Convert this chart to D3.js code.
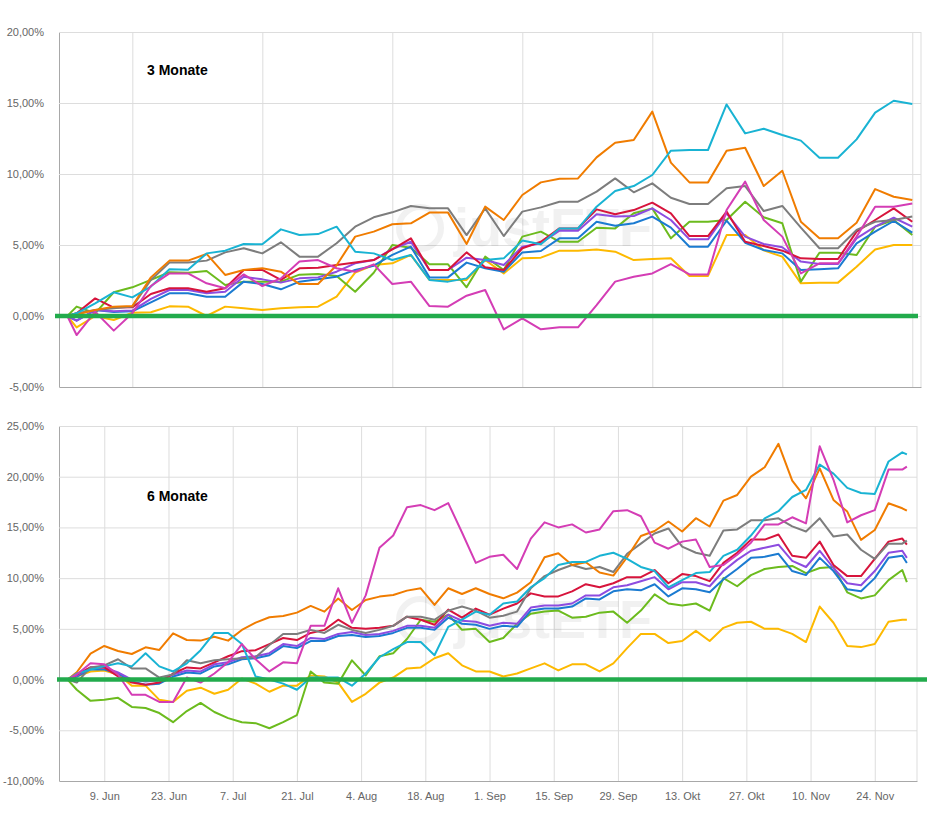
<!DOCTYPE html>
<html>
<head>
<meta charset="utf-8">
<script src="https://cdn.jsdelivr.net/npm/d3@7"></script>
<style>
  body { margin: 0; background: #fff; }
  svg { display: block; }
</style>
</head>
<body>
<script>
// sampled days, counted from 1 Sep (3 Monate) and 1 Jun (6 Monate)
var daysTop = [0, 1, 3, 5, 7, 9, 11, 13, 15, 17, 19, 21, 23, 25, 27, 29, 31, 33, 35, 37, 39, 41, 43, 45, 47,
  49, 51, 53, 55, 57, 59, 61, 63, 65, 67, 69, 71, 73, 75, 77, 79, 81, 83, 85, 87, 89, 91];
var daysBottom = [0, 2, 5, 8, 11, 14, 17, 20, 23, 26, 29, 32, 35, 38, 41, 44, 47, 50, 53, 56, 59,
  62, 65, 68, 71, 74, 77, 80, 83, 86, 89, 92, 95, 98, 101, 104, 107, 110, 113, 116, 119, 122,
  125, 128, 131, 134, 137, 140, 143, 146, 149, 152, 155, 158, 161, 164, 167, 170, 173, 176, 179, 182, 183];

// 3 Monate, performance in %
var topCyan = [0, 0.19, 0.89, 1.67, 1.31, 2.07, 3.29, 3.26, 4.41, 4.6, 5.07, 5.05, 6.1, 5.7, 5.77, 6.29, 4.53, 4.41, 3.94, 4.3, 2.54, 2.42, 2.65, 3.94, 4.06, 5.31, 5.05, 6.17, 6.17, 7.7, 8.8, 9.15, 9.93, 11.64, 11.69, 11.69, 14.9, 12.86, 13.19, 12.75, 12.35, 11.15, 11.15, 12.44, 14.32, 15.16, 14.93];
var topOrange = [0, 0.1, 0.42, 0.66, 0.7, 2.72, 3.9, 3.9, 4.37, 2.89, 3.24, 3.36, 3.12, 2.25, 2.25, 3.57, 5.59, 5.94, 6.46, 6.53, 7.28, 7.28, 5.07, 7.7, 6.76, 8.52, 9.41, 9.67, 9.69, 11.17, 12.2, 12.39, 14.39, 10.8, 9.41, 9.41, 11.64, 11.85, 9.15, 10.23, 6.64, 5.47, 5.47, 6.57, 8.94, 8.4, 8.17];
var topGray = [0, 0.19, 0.42, 0.54, 0.66, 2.54, 3.76, 3.76, 3.9, 4.48, 4.77, 4.41, 5.19, 4.18, 4.18, 5.12, 6.29, 6.95, 7.3, 7.75, 7.58, 7.58, 5.7, 7.58, 5.63, 7.35, 7.65, 8.05, 8.05, 8.76, 9.69, 8.71, 9.34, 8.33, 7.89, 7.89, 8.99, 9.15, 7.39, 7.75, 6.22, 4.77, 4.77, 6.06, 6.64, 6.76, 7.0];
var topRed = [0, 0.19, 1.24, 0.59, 0.61, 1.55, 1.95, 1.95, 1.71, 1.95, 3.24, 3.24, 2.54, 3.36, 3.4, 3.59, 3.76, 3.94, 4.69, 5.47, 3.24, 3.24, 4.48, 3.43, 3.24, 4.77, 5.23, 6.17, 6.17, 7.51, 7.16, 7.46, 7.98, 7.23, 5.63, 5.63, 7.35, 5.23, 4.93, 4.6, 4.06, 4.01, 4.01, 5.94, 6.76, 7.58, 6.64];
var topPurple = [0, -0.33, 0.42, 0.33, 0.38, 1.2, 1.83, 1.83, 1.6, 1.71, 2.77, 2.58, 2.35, 2.65, 2.72, 3.12, 3.71, 3.94, 4.72, 5.23, 3.24, 3.24, 4.11, 3.94, 3.59, 4.88, 5.12, 6.01, 6.01, 7.16, 7.0, 7.04, 7.58, 6.76, 5.4, 5.4, 7.23, 5.59, 5.07, 4.84, 3.83, 3.66, 3.66, 5.47, 6.29, 6.92, 6.29];
var topBlue = [0, -0.33, 0.42, 0.28, 0.33, 0.96, 1.6, 1.6, 1.36, 1.36, 2.42, 2.25, 1.88, 2.42, 2.58, 2.77, 3.24, 3.54, 4.3, 4.88, 2.72, 2.72, 3.76, 3.36, 3.12, 4.48, 4.58, 5.47, 5.47, 6.64, 6.36, 6.53, 7.0, 6.22, 4.88, 4.88, 6.71, 5.16, 4.65, 4.41, 3.24, 3.29, 3.36, 5.12, 5.94, 6.69, 5.87];
var topGreen = [0, 0.66, 0.19, 1.67, 2.02, 2.54, 3.08, 3.05, 3.17, 2.18, 2.42, 2.42, 2.42, 2.91, 2.96, 2.82, 1.71, 3.05, 5.0, 4.81, 3.64, 3.64, 2.02, 4.18, 3.24, 5.59, 5.94, 5.23, 5.23, 6.22, 6.17, 7.23, 7.58, 5.47, 6.64, 6.64, 6.76, 8.05, 6.95, 6.53, 2.42, 4.46, 4.46, 4.3, 6.29, 6.76, 5.7];
var topYellow = [0, -0.8, 0.0, -0.28, 0.23, 0.26, 0.68, 0.66, 0.0, 0.66, 0.54, 0.42, 0.54, 0.61, 0.66, 1.36, 3.05, 3.59, 3.71, 4.3, 2.54, 2.54, 2.54, 3.94, 3.0, 4.06, 4.11, 4.6, 4.6, 4.69, 4.53, 3.94, 4.01, 4.06, 2.82, 2.82, 5.7, 5.7, 4.62, 4.18, 2.3, 2.35, 2.35, 3.47, 4.69, 5.0, 5.0];
var topMagenta = [0, -1.34, 0.3, -1.03, 0.19, 2.11, 3.0, 3.0, 2.3, 1.95, 2.93, 2.11, 2.65, 3.83, 3.94, 3.36, 3.12, 3.64, 2.25, 2.42, 0.7, 0.66, 1.43, 1.83, -0.94, -0.16, -0.94, -0.8, -0.8, 0.77, 2.42, 2.77, 3.0, 3.66, 2.93, 2.93, 7.46, 9.46, 6.76, 5.59, 3.0, 3.71, 3.71, 5.59, 7.7, 7.7, 7.93];

// 6 Monate, performance in %
var botOrange = [0, 0.72, 2.56, 3.31, 2.82, 2.52, 3.18, 2.92, 4.56, 3.9, 3.84, 4.23, 3.84, 4.89, 5.62, 6.14, 6.27, 6.6, 7.26, 6.7, 8.0, 6.86, 7.85, 8.18, 8.34, 8.77, 9.0, 7.36, 9.0, 8.44, 9.0, 8.44, 8.01, 8.57, 9.59, 12.06, 12.46, 11.3, 11.57, 10.55, 10.25, 12.06, 14.16, 14.65, 15.58, 14.6, 15.91, 15.09, 17.64, 18.2, 20.01, 20.93, 23.24, 19.62, 17.87, 20.83, 17.71, 16.56, 13.77, 14.75, 17.38, 16.89, 16.65];
var botCyan = [0, 0.6, 1.0, 1.3, 1.6, 1.3, 2.6, 1.3, 0.8, 1.6, 2.9, 4.6, 4.6, 3.5, 0.3, 0.0, -0.4, -1.0, 0.2, 0.2, 0.2, -0.6, 0.6, 2.2, 3.0, 3.7, 3.7, 2.4, 5.2, 5.9, 6.7, 6.4, 7.5, 7.7, 9.1, 10.0, 11.3, 11.6, 11.6, 12.2, 12.5, 11.9, 11.1, 10.7, 9.1, 9.8, 10.5, 10.6, 12.2, 12.8, 14.2, 15.9, 16.6, 18.0, 18.7, 21.2, 20.3, 18.9, 18.4, 18.3, 21.5, 22.4, 22.2];
var botGray = [0, -0.3, 1.2, 1.4, 2.0, 1.1, 1.1, 0.2, 0.5, 1.9, 1.6, 1.9, 2.0, 2.1, 2.2, 3.4, 4.5, 4.5, 4.9, 4.6, 5.4, 4.9, 4.6, 4.9, 5.3, 6.2, 6.2, 5.9, 6.8, 7.2, 6.8, 6.1, 6.3, 6.7, 9.0, 10.2, 10.8, 11.3, 10.9, 11.1, 10.6, 12.4, 13.4, 14.4, 14.9, 13.1, 12.5, 12.2, 14.7, 14.8, 15.7, 15.7, 15.9, 15.1, 14.6, 15.9, 14.1, 14.3, 12.8, 11.9, 13.4, 13.4, 13.7];
var botRed = [0, 0.5, 1.2, 1.2, 0.3, -0.3, -0.5, -0.3, 0.6, 1.2, 1.1, 1.7, 2.3, 2.8, 2.9, 3.5, 4.1, 3.9, 4.6, 4.9, 5.9, 5.1, 5.0, 5.1, 5.3, 6.2, 5.9, 5.4, 6.9, 6.1, 7.0, 6.4, 7.0, 7.5, 8.5, 8.2, 8.2, 8.7, 9.4, 9.1, 9.5, 10.1, 10.1, 10.8, 9.5, 10.4, 10.2, 9.7, 11.5, 12.5, 13.8, 13.8, 14.3, 12.2, 12.0, 13.6, 11.3, 10.2, 10.2, 11.9, 13.6, 13.9, 13.3];
var botPurple = [0, 0.4, 1.2, 1.2, 0.7, 0.0, -0.2, -0.1, 0.5, 0.9, 0.8, 1.5, 1.7, 2.2, 2.3, 2.6, 3.5, 3.3, 4.1, 4.0, 4.5, 4.7, 4.4, 4.5, 4.8, 5.3, 5.3, 5.1, 6.4, 5.8, 5.7, 5.3, 5.6, 5.5, 7.1, 7.3, 7.3, 7.5, 8.3, 8.3, 9.1, 9.3, 9.7, 10.1, 8.9, 9.6, 9.6, 9.2, 10.7, 11.8, 12.7, 13.0, 13.3, 11.7, 11.1, 12.7, 11.0, 9.5, 9.3, 10.7, 12.5, 12.7, 12.0];
var botBlue = [0, 0.3, 1.0, 1.0, 0.6, -0.2, -0.5, -0.4, 0.3, 0.7, 0.6, 1.3, 1.5, 2.0, 2.1, 2.4, 3.3, 3.1, 3.8, 3.8, 4.3, 4.4, 4.2, 4.3, 4.6, 5.1, 5.1, 4.9, 6.1, 5.5, 5.4, 5.0, 5.3, 5.2, 6.8, 7.0, 7.0, 7.2, 8.0, 7.9, 8.7, 8.9, 8.8, 9.4, 8.2, 9.0, 8.9, 8.6, 9.9, 10.9, 12.0, 12.1, 12.4, 10.7, 10.3, 12.0, 10.7, 8.9, 8.7, 10.0, 12.0, 12.2, 11.5];
var botGreen = [0, -1.0, -2.1, -2.0, -1.8, -2.7, -2.8, -3.3, -4.2, -3.1, -2.3, -3.2, -3.8, -4.2, -4.3, -4.8, -4.2, -3.5, 0.8, -0.3, -0.4, 1.9, 0.4, 2.3, 2.6, 4.0, 5.9, 5.7, 6.4, 4.9, 5.0, 3.7, 4.1, 5.5, 6.5, 6.7, 6.8, 6.1, 6.2, 6.6, 6.7, 5.6, 6.8, 8.4, 7.5, 7.3, 7.5, 6.8, 10.0, 9.2, 10.3, 10.9, 11.1, 11.2, 10.5, 11.0, 11.1, 8.6, 8.0, 8.3, 9.8, 10.8, 9.6];
var botYellow = [0, 0.3, 0.8, 0.9, 0.5, -0.6, -0.6, -2.0, -2.2, -1.1, -0.8, -1.4, -1.0, 0.1, -0.4, -1.2, -0.6, -0.6, 0.4, 0.3, -0.3, -2.2, -1.4, -0.3, 0.2, 1.1, 1.2, 2.1, 2.6, 1.4, 0.8, 0.8, 0.3, 0.6, 1.1, 1.6, 0.9, 1.5, 1.5, 0.8, 1.6, 3.1, 4.5, 4.5, 3.6, 3.8, 4.8, 3.8, 5.1, 5.6, 5.7, 5.0, 5.0, 4.5, 3.7, 7.2, 5.6, 3.3, 3.2, 3.5, 5.7, 5.9, 5.9];
var botMagenta = [0, 0.5, 1.6, 1.5, 0.5, -1.5, -1.5, -2.2, -2.2, 0.2, -0.3, 0.6, 1.7, 3.5, 2.0, 0.8, 1.7, 1.6, 5.3, 5.3, 9.0, 5.6, 8.3, 13.0, 14.2, 17.0, 17.2, 16.7, 17.4, 14.5, 11.5, 12.1, 12.3, 10.9, 13.9, 15.5, 15.0, 15.3, 14.5, 14.8, 16.6, 16.7, 16.1, 13.5, 12.9, 13.6, 13.8, 11.1, 11.3, 12.3, 13.5, 15.3, 15.3, 16.0, 15.4, 23.0, 19.7, 15.5, 16.2, 16.7, 20.7, 20.7, 21.0];

var topGridDates = ["2025-09-08", "2025-09-22", "2025-10-06", "2025-10-20", "2025-11-03", "2025-11-17", "2025-12-01"];
var tickDates = ["2025-06-09", "2025-06-23", "2025-07-07", "2025-07-21", "2025-08-04", "2025-08-18", "2025-09-01",
  "2025-09-15", "2025-09-29", "2025-10-13", "2025-10-27", "2025-11-10", "2025-11-24"];
var tickLabels = ["9. Jun", "23. Jun", "7. Jul", "21. Jul", "4. Aug", "18. Aug", "1. Sep", "15. Sep", "29. Sep",
  "13. Okt", "27. Okt", "10. Nov", "24. Nov"];
var topYTicks = [-5, 0, 5, 10, 15, 20];
var botYTicks = [-10, -5, 0, 5, 10, 15, 20, 25];

var colors = {
  yellow: "#fdb900", green: "#6cbb1e", blue: "#1b7bd1", purple: "#8d4ce0", red: "#d7143c",
  gray: "#7d7d7d", orange: "#f07c00", cyan: "#19b3d3", magenta: "#d43db5"
};
var DAY = 864e5;

var svg = d3.select("body").append("svg")
  .attr("width", 927)
  .attr("height", 814);

var pct = function(v) { return v.toFixed(2).replace(".", ",") + "%"; };

function drawPanel(p) {
  var g = svg.append("g");
  var w = p.x.range()[1] - p.x.range()[0];
  var h = p.y.range()[0] - p.y.range()[1];

  // horizontal grid + labels
  var ya = g.append("g")
    .attr("transform", "translate(59,0)")
    .call(d3.axisLeft(p.y).tickValues(p.yTicks).tickSize(-w).tickSizeOuter(0).tickPadding(15).tickFormat(pct));
  ya.selectAll(".tick line").attr("stroke", "#dddddd");
  ya.select(".domain").attr("stroke", "#a8a8a8");
  ya.selectAll("text").attr("fill", "#666").style("font-family", "'Liberation Sans', Arial, sans-serif").style("font-size", "11px");

  // vertical grid (+ labels on the lower panel)
  var xa = g.append("g")
    .attr("transform", "translate(0," + p.y.range()[0] + ")")
    .call(d3.axisBottom(p.x).tickValues(p.xTicks.map(function(s) { return new Date(s); }))
      .tickSize(-h).tickSizeOuter(0).tickPadding(11)
      .tickFormat(function(d, i) { return p.xLabels ? p.xLabels[i] : ""; }));
  xa.selectAll(".tick line").attr("stroke", "#dddddd");
  xa.select(".domain").attr("stroke", "#a8a8a8");
  xa.selectAll("text").attr("fill", "#666").style("font-family", "'Liberation Sans', Arial, sans-serif").style("font-size", "11px");

  g.append("line")
    .attr("x1", p.x.range()[1]).attr("x2", p.x.range()[1])
    .attr("y1", p.y.range()[1]).attr("y2", p.y.range()[0])
    .attr("stroke", "#dddddd");

  // faint watermark
  var wm = g.append("g").attr("transform", "translate(420," + p.wmY + ")").attr("opacity", 0.05);
  wm.append("circle").attr("r", 21).attr("fill", "none").attr("stroke", "#000").attr("stroke-width", 6);
  wm.append("text").attr("x", 34).attr("y", 18).text("justETF")
    .style("font-family", "'Liberation Sans', Arial, sans-serif").style("font-weight", "bold").style("font-size", "54px");

  var line = d3.line()
    .x(function(d) { return p.x(d.date); })
    .y(function(d) { return p.y(d.v); });

  p.series.forEach(function(s) {
    var pts = p.days.map(function(day, i) { return { date: new Date(p.start + day * DAY), v: s.values[i] }; });
    g.append("path")
      .datum(pts)
      .attr("d", line)
      .attr("fill", "none")
      .attr("stroke", s.color)
      .attr("stroke-width", 2)
      .attr("stroke-linejoin", "round");
  });

  // thick zero line
  g.append("line")
    .attr("x1", p.zeroX[0]).attr("x2", p.zeroX[1])
    .attr("y1", p.y(0)).attr("y2", p.y(0))
    .attr("stroke", "#22ab4c")
    .attr("stroke-width", 4.5);

  g.append("text")
    .attr("x", 147)
    .attr("y", p.titleY)
    .text(p.title)
    .attr("fill", "#000")
    .style("font-family", "'Liberation Sans', Arial, sans-serif")
    .style("font-weight", "bold")
    .style("font-size", "14px");
}

drawPanel({
  title: "3 Monate", titleY: 75, wmY: 228,
  x: d3.scaleUtc().domain([Date.UTC(2025, 7, 31, 2, 30), Date.UTC(2025, 11, 1, 22, 30)]).range([59, 921]),
  y: d3.scaleLinear().domain([-5, 20]).range([387, 32]),
  yTicks: topYTicks, xTicks: topGridDates, xLabels: null,
  start: Date.UTC(2025, 8, 1), days: daysTop, zeroX: [55, 918],
  series: [
    { color: colors.yellow, values: topYellow },
    { color: colors.green, values: topGreen },
    { color: colors.blue, values: topBlue },
    { color: colors.purple, values: topPurple },
    { color: colors.red, values: topRed },
    { color: colors.gray, values: topGray },
    { color: colors.orange, values: topOrange },
    { color: colors.cyan, values: topCyan },
    { color: colors.magenta, values: topMagenta }
  ]
});

drawPanel({
  title: "6 Monate", titleY: 501, wmY: 620,
  x: d3.scaleUtc().domain([Date.UTC(2025, 4, 30, 3), Date.UTC(2025, 11, 3, 5)]).range([59, 917]),
  y: d3.scaleLinear().domain([-10, 25]).range([781, 426]),
  yTicks: botYTicks, xTicks: tickDates, xLabels: tickLabels,
  start: Date.UTC(2025, 5, 1), days: daysBottom, zeroX: [57, 927],
  series: [
    { color: colors.yellow, values: botYellow },
    { color: colors.green, values: botGreen },
    { color: colors.blue, values: botBlue },
    { color: colors.purple, values: botPurple },
    { color: colors.red, values: botRed },
    { color: colors.gray, values: botGray },
    { color: colors.orange, values: botOrange },
    { color: colors.cyan, values: botCyan },
    { color: colors.magenta, values: botMagenta }
  ]
});
</script>
</body>
</html>
